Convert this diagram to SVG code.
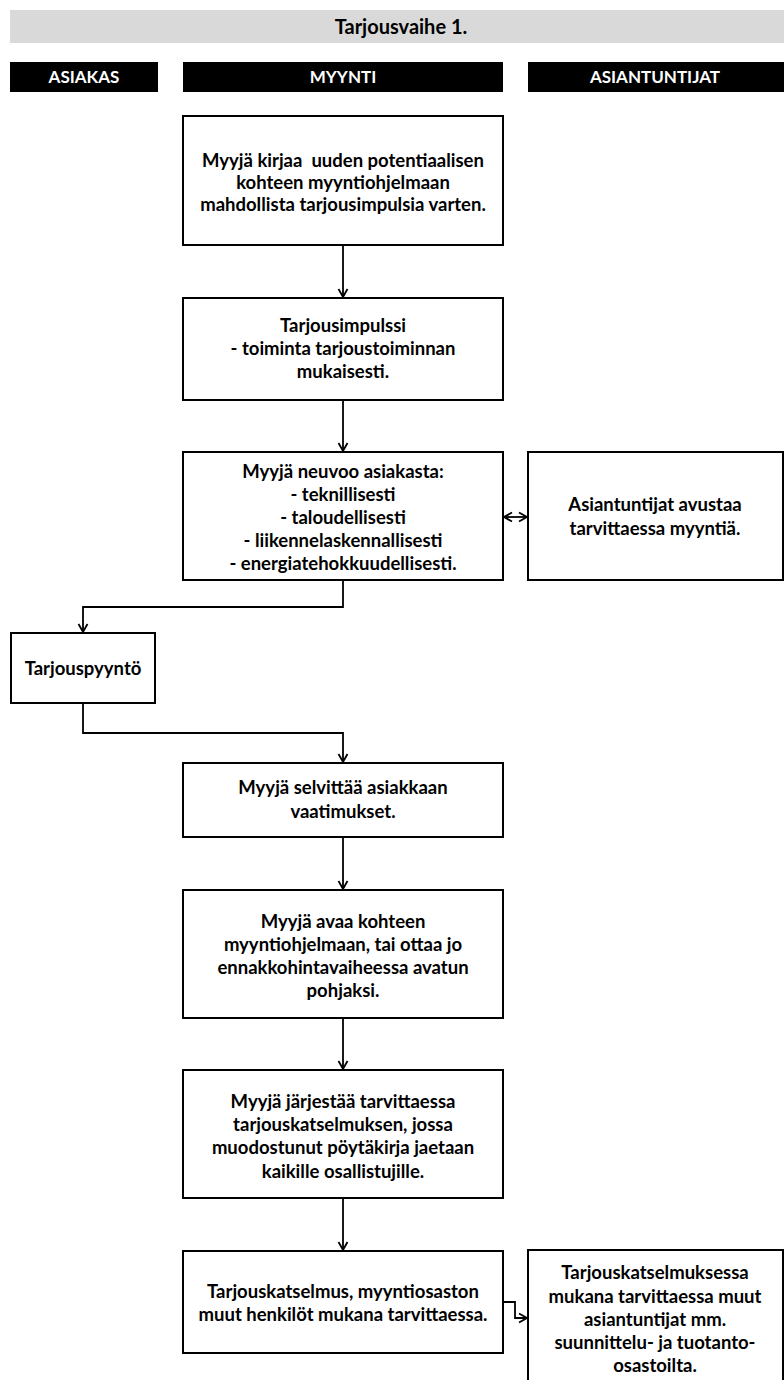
<svg xmlns="http://www.w3.org/2000/svg" width="784" height="1380" viewBox="0 0 784 1380">
<style>
.box{fill:#fff;stroke:#000;stroke-width:2}
.t{font-family:Lato,"Liberation Sans",sans-serif;font-weight:bold;font-size:18.5px;fill:#000;text-anchor:middle}
.h{font-family:Lato,"Liberation Sans",sans-serif;font-weight:bold;font-size:17px;fill:#fff;text-anchor:middle}
.c{fill:none;stroke:#000;stroke-width:1.8}
</style>
<defs>
<marker id="arr" markerWidth="12" markerHeight="12" refX="10" refY="6" orient="auto-start-reverse" markerUnits="userSpaceOnUse">
<path d="M2,1.5 L10,6 L2,10.5" fill="none" stroke="#000" stroke-width="1.8"/>
</marker>
</defs>
<rect width="784" height="1380" fill="#fff"/>
<g id="title">
<rect x="10" y="10" width="774" height="33" fill="#d9d9d9"/>
<text class="t" x="401" y="34" style="font-size:20px">Tarjousvaihe 1.</text>
</g>
<g id="lane-asiakas"><rect x="10" y="62" width="148" height="30" fill="#000"/><text class="h" x="84" y="83">ASIAKAS</text></g>
<g id="lane-myynti"><rect x="183" y="62" width="320" height="30" fill="#000"/><text class="h" x="343" y="83">MYYNTI</text></g>
<g id="lane-asiantuntijat"><rect x="528" y="62" width="256" height="30" fill="#000"/><text class="h" x="655" y="83">ASIANTUNTIJAT</text></g>

<g id="connectors">
<path class="c" d="M343,245 V297" marker-end="url(#arr)"/>
<path class="c" d="M343,400 V451" marker-end="url(#arr)"/>
<path class="c" d="M504,517 H527" marker-start="url(#arr)" marker-end="url(#arr)"/>
<path class="c" d="M343,580 V607 H83 V632" marker-end="url(#arr)"/>
<path class="c" d="M83,703 V733 H343 V762" marker-end="url(#arr)"/>
<path class="c" d="M343,837 V889" marker-end="url(#arr)"/>
<path class="c" d="M343,1018 V1069" marker-end="url(#arr)"/>
<path class="c" d="M343,1198 V1250" marker-end="url(#arr)"/>
<path class="c" d="M503,1302 H515 V1318 H527" marker-end="url(#arr)"/>
</g>

<g id="n1"><rect class="box" x="183" y="116" width="320" height="129"/>
<text class="t" x="343" y="167" xml:space="preserve">Myyjä kirjaa  uuden potentiaalisen</text>
<text class="t" x="343" y="189">kohteen myyntiohjelmaan</text>
<text class="t" x="343" y="211">mahdollista tarjousimpulsia varten.</text></g>

<g id="n2"><rect class="box" x="183" y="298" width="320" height="102"/>
<text class="t" x="343" y="332">Tarjousimpulssi</text>
<text class="t" x="343" y="355">- toiminta tarjoustoiminnan</text>
<text class="t" x="343" y="378">mukaisesti.</text></g>

<g id="n3"><rect class="box" x="183" y="452" width="320" height="128"/>
<text class="t" x="343" y="478">Myyjä neuvoo asiakasta:</text>
<text class="t" x="343" y="501">- teknillisesti</text>
<text class="t" x="343" y="524">- taloudellisesti</text>
<text class="t" x="343" y="547">- liikennelaskennallisesti</text>
<text class="t" x="343" y="570">- energiatehokkuudellisesti.</text></g>

<g id="n3b"><rect class="box" x="528" y="452" width="255" height="128"/>
<text class="t" x="655" y="511">Asiantuntijat avustaa</text>
<text class="t" x="655" y="535">tarvittaessa myyntiä.</text></g>

<g id="n4"><rect class="box" x="11" y="633" width="144" height="70"/>
<text class="t" x="83" y="675">Tarjouspyyntö</text></g>

<g id="n5"><rect class="box" x="183" y="763" width="320" height="74"/>
<text class="t" x="343" y="794">Myyjä selvittää asiakkaan</text>
<text class="t" x="343" y="818">vaatimukset.</text></g>

<g id="n6"><rect class="box" x="183" y="890" width="320" height="128"/>
<text class="t" x="343" y="928">Myyjä avaa kohteen</text>
<text class="t" x="343" y="951">myyntiohjelmaan, tai ottaa jo</text>
<text class="t" x="343" y="974">ennakkohintavaiheessa avatun</text>
<text class="t" x="343" y="997">pohjaksi.</text></g>

<g id="n7"><rect class="box" x="183" y="1070" width="320" height="128"/>
<text class="t" x="343" y="1108">Myyjä järjestää tarvittaessa</text>
<text class="t" x="343" y="1131">tarjouskatselmuksen, jossa</text>
<text class="t" x="343" y="1154">muodostunut pöytäkirja jaetaan</text>
<text class="t" x="343" y="1178">kaikille osallistujille.</text></g>

<g id="n8"><rect class="box" x="183" y="1251" width="320" height="102"/>
<text class="t" x="343" y="1298">Tarjouskatselmus, myyntiosaston</text>
<text class="t" x="343" y="1321">muut henkilöt mukana tarvittaessa.</text></g>

<g id="n9"><rect class="box" x="528" y="1250" width="255" height="140"/>
<text class="t" x="655" y="1279">Tarjouskatselmuksessa</text>
<text class="t" x="655" y="1303">mukana tarvittaessa muut</text>
<text class="t" x="655" y="1326">asiantuntijat mm.</text>
<text class="t" x="655" y="1349">suunnittelu- ja tuotanto-</text>
<text class="t" x="655" y="1372">osastoilta.</text></g>
</svg>
